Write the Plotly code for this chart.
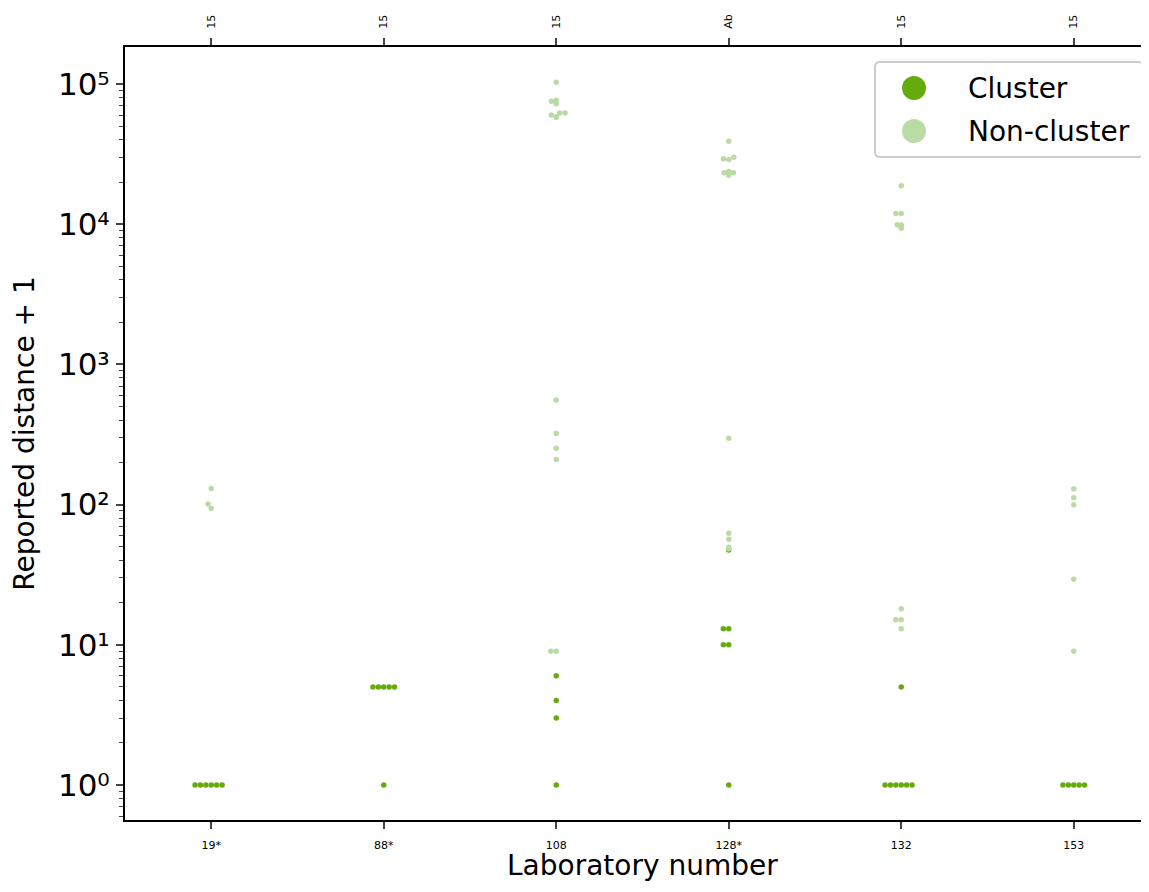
import math
import plotly.graph_objects as go

# ---- data (reported distance + 1) ----
labs = ["19*", "88*", "108", "128*", "132", "153"]
top_labels = ["15", "15", "15", "Ab", "15", "15"]

cluster_19 = [1, 1, 1, 1, 1, 1]
cluster_88 = [1, 5, 5, 5, 5, 5]
cluster_108 = [1, 3, 4, 6]
cluster_128 = [1, 10, 10, 13, 13, 47.5]
cluster_132 = [1, 1, 1, 1, 1, 1, 5]
cluster_153 = [1, 1, 1, 1, 1]

noncluster_19 = [94, 101, 130]
noncluster_88 = []
noncluster_108 = [9, 9, 210, 252, 322, 557, 58000, 58200, 60100, 62100, 62100,
                  72400, 75300, 76500, 103000]
noncluster_128 = [48.5, 49.6, 56.5, 62.4, 297, 22300, 23300, 23300, 23600, 23800,
                  29000, 29300, 30000, 39000]
noncluster_132 = [13, 15.1, 15.1, 18.1, 9350, 9550, 9550, 9870, 9910, 11900,
                  11900, 18800]
noncluster_153 = [9, 29.3, 99.8, 112, 129]

cluster_values = [cluster_19, cluster_88, cluster_108, cluster_128, cluster_132, cluster_153]
noncluster_values = [noncluster_19, noncluster_88, noncluster_108, noncluster_128,
                     noncluster_132, noncluster_153]
series_names = ["Cluster", "Non-cluster"]
x_title = "Laboratory number"
y_title = "Reported distance + 1"

CLUSTER_COLOR = "rgb(101,171,14)"
NONCLUSTER_COLOR = "rgb(187,219,166)"

# ---- layout geometry ----
PAGE_OFF = 8  # body margin of the html page
W, H = 1141, 876
ML, MR, MT, MB = 117, 0, 39, 64
PW, PH = W - ML - MR, H - MT - MB
CAT_PX = 172.5
x_range = [-0.5, -0.5 + PW / CAT_PX]
y_range = [-0.25, 5.264]
px_per_cat = PW / (x_range[1] - x_range[0])
px_per_dec = PH / (y_range[1] - y_range[0])
DIAM = 5.4  # px


def swarm_offsets(values):
    """Simple beeswarm: returns x offsets (in category units) for values."""
    order = sorted(range(len(values)), key=lambda i: values[i])
    placed = []
    offs = [0.0] * len(values)
    for i in order:
        y = math.log10(values[i]) * px_per_dec
        cands = [0.0]
        for (px, py) in placed:
            dy = abs(py - y)
            if dy < DIAM:
                dx = math.sqrt(DIAM ** 2 - dy ** 2)
                cands += [px - dx, px + dx]
        cands = sorted(set(round(c, 6) for c in cands), key=lambda c: (abs(c), c))
        for c in cands:
            if all((c - px) ** 2 + (y - py) ** 2 >= DIAM ** 2 - 1e-6 for (px, py) in placed):
                placed.append((c, y))
                offs[i] = c / px_per_cat
                break
    return offs


cx, cy, nx, ny = [], [], [], []
for k in range(len(labs)):
    vals = cluster_values[k] + noncluster_values[k]
    kinds = ["c"] * len(cluster_values[k]) + ["n"] * len(noncluster_values[k])
    offs = swarm_offsets(vals)
    for v, kd, o in zip(vals, kinds, offs):
        if kd == "c":
            cx.append(k + o); cy.append(v)
        else:
            nx.append(k + o); ny.append(v)

fig = go.Figure()
fig.add_trace(go.Scatter(x=cx, y=cy, mode="markers", name=series_names[0], showlegend=False,
                         marker=dict(color=CLUSTER_COLOR, size=5.5, line=dict(width=0))))
fig.add_trace(go.Scatter(x=nx, y=ny, mode="markers", name=series_names[1], showlegend=False,
                         marker=dict(color=NONCLUSTER_COLOR, size=5.5, line=dict(width=0))))
# invisible trace to anchor top axis
fig.add_trace(go.Scatter(x=[0], y=[1], xaxis="x2", mode="markers",
                         marker=dict(opacity=0), showlegend=False, hoverinfo="skip"))


# ---- custom legend (page pixel -> paper coords) ----
def pxx(px):
    return (px - PAGE_OFF - ML) / PW


def pxy(py):
    return (H - MB - (py - PAGE_OFF)) / PH


bx0, by0, bx1, by1, r = 875, 62, 1143, 157, 5
rx, ry = r / PW, r / PH
X0, X1, Y0, Y1 = pxx(bx0), pxx(bx1), pxy(by1), pxy(by0)
path = (f"M {X0+rx},{Y1} L {X1-rx},{Y1} Q {X1},{Y1} {X1},{Y1-ry} "
        f"L {X1},{Y0+ry} Q {X1},{Y0} {X1-rx},{Y0} L {X0+rx},{Y0} "
        f"Q {X0},{Y0} {X0},{Y0+ry} L {X0},{Y1-ry} Q {X0},{Y1} {X0+rx},{Y1} Z")
shapes = [dict(type="path", xref="paper", yref="paper", path=path,
               fillcolor="rgba(255,255,255,0.8)", line=dict(color="#cccccc", width=2),
               layer="above")]
annotations = []
for name, col, cyp in zip(series_names, [CLUSTER_COLOR, NONCLUSTER_COLOR], [88, 131]):
    shapes.append(dict(type="circle", xref="paper", yref="paper",
                       xsizemode="pixel", ysizemode="pixel",
                       xanchor=pxx(914), yanchor=pxy(cyp),
                       x0=-12, x1=12, y0=-12, y1=12,
                       fillcolor=col, line=dict(width=0), layer="above"))
    annotations.append(dict(x=pxx(966), y=pxy(cyp), xref="paper", yref="paper",
                            text=name, showarrow=False, xanchor="left", yanchor="middle",
                            font=dict(size=28, family="DejaVu Sans", color="black")))

# x-axis title placed as text just above the bottom edge of the page
annotations.append(dict(x=pxx(642), y=pxy(884), xref="paper", yref="paper",
                        text=x_title, showarrow=False, xanchor="center", yanchor="bottom",
                        font=dict(size=28, family="DejaVu Sans", color="black")))

font = "DejaVu Sans"
sup = str.maketrans("012345", "⁰¹²³⁴⁵")
fig.update_layout(
    width=W, height=H,
    margin=dict(l=ML, r=MR, t=MT, b=MB, autoexpand=False),
    plot_bgcolor="white", paper_bgcolor="white",
    font=dict(family=font, color="black"),
    showlegend=False,
    shapes=shapes, annotations=annotations,
    xaxis=dict(range=x_range, tickmode="array", tickvals=list(range(len(labs))),
               ticktext=labs, tickfont=dict(size=11), ticks="outside", ticklen=7,
               tickwidth=1.5, ticklabelstandoff=7, automargin=False,
               showline=True, linecolor="black", linewidth=2,
               mirror=False, showgrid=False, zeroline=False),
    xaxis2=dict(range=x_range, overlaying="x", side="top", tickmode="array",
                tickvals=list(range(len(labs))), ticktext=top_labels,
                tickfont=dict(size=11), tickangle=-90, ticks="outside", ticklen=7,
                tickwidth=1.5, ticklabelstandoff=7, automargin=False,
                showline=True, linecolor="black", linewidth=2,
                showgrid=False, zeroline=False),
    yaxis=dict(type="log", range=y_range, tickmode="array",
               tickvals=[1, 10, 100, 1000, 10000, 100000],
               ticktext=["10" + str(e).translate(sup) for e in range(6)],
               tickfont=dict(size=31), ticks="outside", ticklen=7, tickwidth=1.5,
               automargin=False,
               showline=True, linecolor="black", linewidth=2, showgrid=False,
               zeroline=False,
               minor=dict(ticks="outside", ticklen=4, tickwidth=1, dtick="D1", showgrid=False),
               title=dict(text=y_title, font=dict(size=28), standoff=16)),
)

fig.write_html("out.html")
